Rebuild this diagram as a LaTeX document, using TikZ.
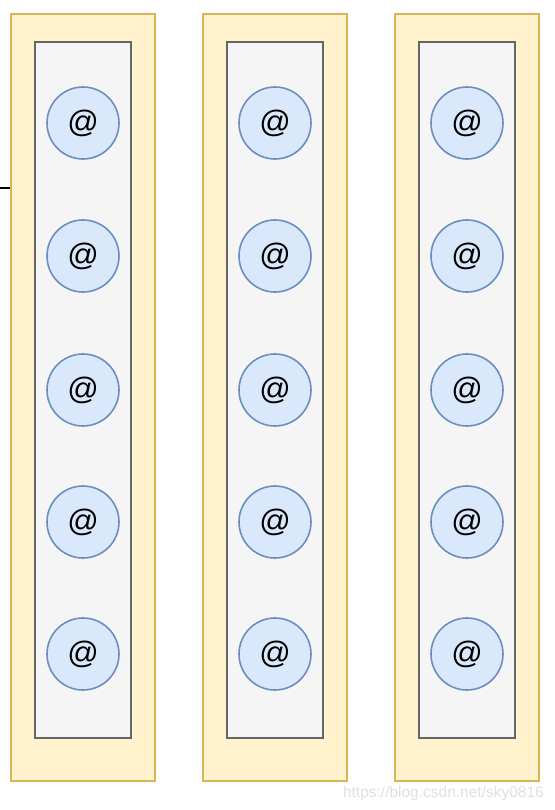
\documentclass[tikz,border=0pt]{standalone}
\usepackage{fontspec}
\setmainfont{Liberation Sans}
\usetikzlibrary{positioning}

\definecolor{layerfill}{HTML}{FFF2CC}
\definecolor{layerline}{HTML}{D6B656}
\definecolor{colfill}{HTML}{F5F5F5}
\definecolor{colline}{HTML}{666666}
\definecolor{unitfill}{HTML}{DAE8FC}
\definecolor{unitline}{HTML}{6C8EBF}

\begin{document}
\begin{tikzpicture}[x=1pt, y=-1pt]
    \useasboundingbox (0,0) rectangle (554,810);

    \foreach \i/\cx in {1/83, 2/275, 3/467} {
        \node [rectangle, inner sep=0pt, minimum width=144pt, minimum height=767pt, draw=layerline, fill=layerfill, line width=1.6pt] (layer\i) at (\cx, 397.5) {};
        \node [rectangle, inner sep=0pt, minimum width=96pt, minimum height=696pt, draw=colline, fill=colfill, line width=1.6pt] (col\i) at (\cx, 390) {};
        \foreach \j/\cy in {1/123, 2/256, 3/390, 4/522, 5/654} {
            \node [circle, inner sep=0pt, minimum size=72pt, draw=unitline, fill=unitfill, line width=1.6pt, font=\fontsize{31}{31}\selectfont] (unit\i\j) at (\cx, \cy) {@};
        }
    }

    \coordinate (input) at (0, 188);
    \draw [line width=1.4pt] (input) -- (input -| layer1.west);

    \node [anchor=base east, inner sep=0pt, text=black!12, font=\fontsize{15.5}{15.5}\selectfont] (mark) at (544, 797) {https://blog.csdn.net/sky0816};
\end{tikzpicture}
\end{document}
